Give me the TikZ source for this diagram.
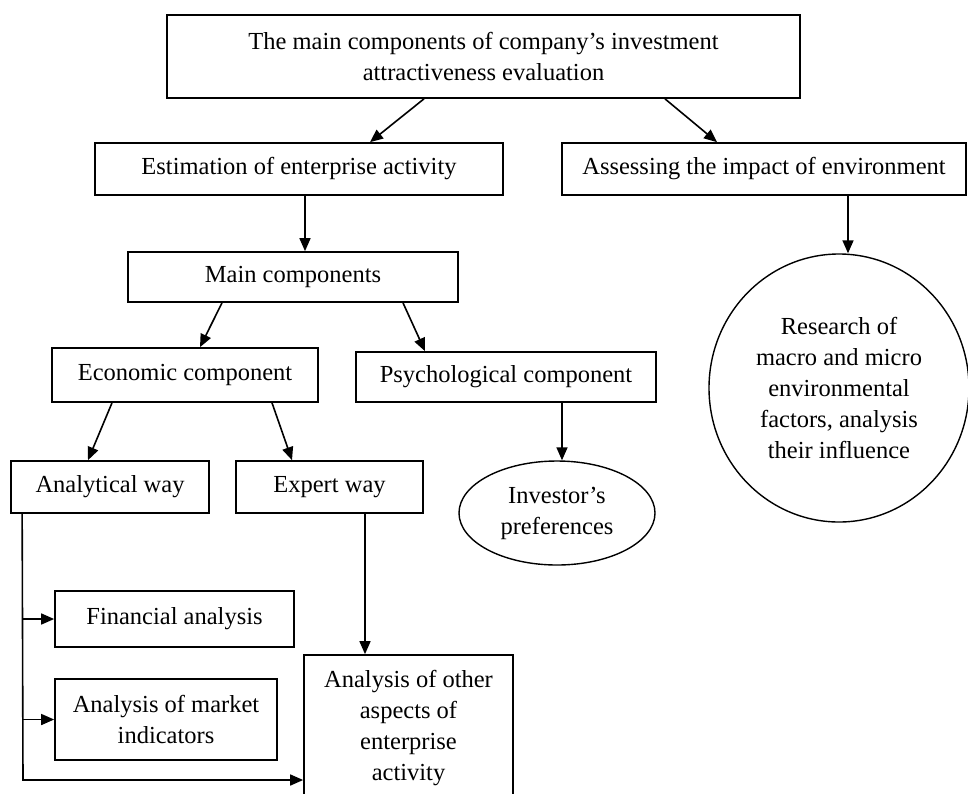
\documentclass[tikz,border=0pt]{standalone}
\usepackage{fontspec}
\setmainfont{Liberation Serif}
\usetikzlibrary{arrows.meta,shapes.geometric}
\begin{document}
\begin{tikzpicture}[x=1pt,y=-1pt,
  every node/.style={font=\fontsize{24.5}{31}\selectfont, align=center, inner sep=0pt},
  box/.style={draw, line width=1.7pt, rectangle},
  oval/.style={draw, line width=1.4pt, ellipse},
  arr/.style={line width=1.6pt, -{Triangle[length=13pt,width=11pt]}},
  ln/.style={line width=1.6pt}]
\clip (0,0) rectangle (968,793);
\fill[white] (0,0) rectangle (968,793);

\node[box, minimum width=633, minimum height=83] (top) at (483.5,56.5)
  {The main components of company’s investment\\attractiveness evaluation};
\node[box, minimum width=408, minimum height=52] (est) at (299,169) {Estimation of enterprise activity};
\node[box, minimum width=404, minimum height=52] (assess) at (764,169) {Assessing the impact of environment};
\node[box, minimum width=330, minimum height=50] (main) at (293,277) {Main components};
\node[box, minimum width=266, minimum height=54] (econ) at (185,375) {Economic component};
\node[box, minimum width=300, minimum height=50] (psych) at (506,377) {Psychological component};
\node[oval, minimum width=260, minimum height=268] (circ) at (839,388)
  {Research of\\macro and micro\\environmental\\factors, analysis\\their influence};
\node[oval, minimum width=196, minimum height=104] (inv) at (557,513) {Investor’s\\preferences};
\node[box, minimum width=198, minimum height=52] (anal) at (110,487) {Analytical way};
\node[box, minimum width=187, minimum height=52] (expert) at (329.5,487) {Expert way};
\node[box, minimum width=239, minimum height=56] (fin) at (174.5,619) {Financial analysis};
\node[box, minimum width=222, minimum height=81] (mark) at (166,719.5) {Analysis of market\\indicators};
\node[box, minimum width=209, minimum height=147] (other) at (408.5,728.5)
  {Analysis of other\\aspects of\\enterprise\\activity};

\draw[arr] ([xshift=-59.5]top.south) -- ([xshift=71]est.north);
\draw[arr] ([xshift=181.5]top.south) -- ([xshift=-47]assess.north);
\draw[arr] ([xshift=6]est.south) -- ([xshift=6]est.south |- main.north);
\draw[arr] ([xshift=-71]main.south) -- ([xshift=15]econ.north);
\draw[arr] ([xshift=110]main.south) -- ([xshift=-81]psych.north);
\draw[arr] ([xshift=84]assess.south) -- ([xshift=84]assess.south |- circ.north);
\draw[arr] ([xshift=56]psych.south) -- ([xshift=56]psych.south |- inv.north);
\draw[arr] ([xshift=-73]econ.south) -- ([xshift=-22]anal.north);
\draw[arr] ([xshift=87]econ.south) -- ([xshift=-37.5]expert.north);
\draw[arr] ([xshift=35.5]expert.south) -- ([xshift=35.5]expert.south |- other.north);

\coordinate (sp) at ([xshift=12]anal.south west);
\coordinate (spb) at (23,780);
\draw[arr] (sp) -- (spb) -- (spb -| other.west);
\draw[arr] (fin.west -| sp) -- (fin.west);
\draw[arr] (mark.west -| sp) -- (mark.west);
\end{tikzpicture}
\end{document}
